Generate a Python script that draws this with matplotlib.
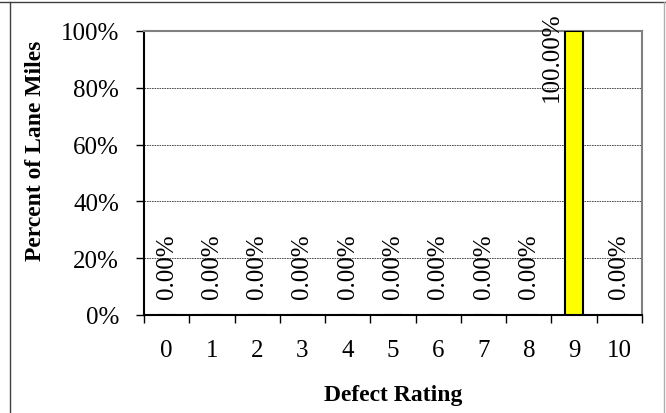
import matplotlib
matplotlib.use("Agg")
import matplotlib.pyplot as plt
import numpy as np
from matplotlib.lines import Line2D

# date
ratings = ["0", "1", "2", "3", "4", "5", "6", "7", "8", "9", "10"]
percent = [0.0, 0.0, 0.0, 0.0, 0.0, 0.0, 0.0, 0.0, 0.0, 1.0, 0.0]

plt.rcParams['font.family'] = ['Liberation Serif', 'DejaVu Serif']

W, H = 666, 414
fig = plt.figure(figsize=(W/100, H/100), dpi=100)
ax = fig.add_axes([144/W, 1 - 316/H, (642-144)/W, (316-32)/H])

x = np.arange(len(ratings))
ax.bar(x, percent, width=0.4, color="#FFFF00", edgecolor="black", linewidth=1.5, zorder=3)

ax.set_xlim(-0.5, len(ratings) - 0.5)
ax.set_ylim(0, 1)

# etichete de date, rotite vertical (ca in Excel, tinute in interiorul graficului)
plafon = 0.754
for xi, v in zip(x, percent):
    y = v + 0.06
    dx = 0
    if y > plafon:
        y = plafon
        dx = -0.5
    ax.text(xi + dx, y, f"{v*100:.2f}%", rotation=90,
            ha="center", va="bottom", fontsize=18, zorder=4)

ax.set_yticks([0, 0.2, 0.4, 0.6, 0.8, 1.0])
ax.set_yticklabels(["0%", "20%", "40%", "60%", "80%", "100%"], fontsize=18)
for yv in [0.2, 0.4, 0.6, 0.8]:
    ax.axhline(yv, color="#333333", linestyle=(0, (2, 1)), linewidth=0.6, zorder=1)

ax.set_xticks(x)
ax.set_xticklabels(ratings, fontsize=18)
ax.tick_params(axis="x", length=0, pad=17)
ax.set_xticks(np.arange(-0.5, len(ratings)), minor=True)
ax.tick_params(axis="x", which="minor", length=6, width=1, direction="out")
ax.tick_params(axis="y", length=6, width=1, direction="out", pad=12)

ax.spines["left"].set_color("black")
ax.spines["bottom"].set_color("black")
ax.spines["left"].set_linewidth(1.5)
ax.spines["bottom"].set_linewidth(1.5)
ax.spines["top"].set_color("#808080")
ax.spines["right"].set_color("#808080")
ax.spines["top"].set_linewidth(1.5)
ax.spines["right"].set_linewidth(1.5)

ax.set_xlabel("Defect Rating", fontsize=17, fontweight="bold", labelpad=17)
ax.set_ylabel("Percent of Lane Miles", fontsize=17, fontweight="bold", labelpad=10)
ax.yaxis.set_label_coords(-0.197, 0.58)

# chenarul exterior (taiat de marginile imaginii)
fig.lines.append(Line2D([0, 1], [1 - 2.5/H] * 2, transform=fig.transFigure,
                        color="#404040", linewidth=1))
fig.lines.append(Line2D([9.5/W] * 2, [0, 1 - 2.5/H], transform=fig.transFigure,
                        color="#404040", linewidth=1))
fig.lines.append(Line2D([663.5/W] * 2, [0, 1 - 2.5/H], transform=fig.transFigure,
                        color="#b0b0b0", linewidth=1))

fig.savefig("out.png", dpi=100)
